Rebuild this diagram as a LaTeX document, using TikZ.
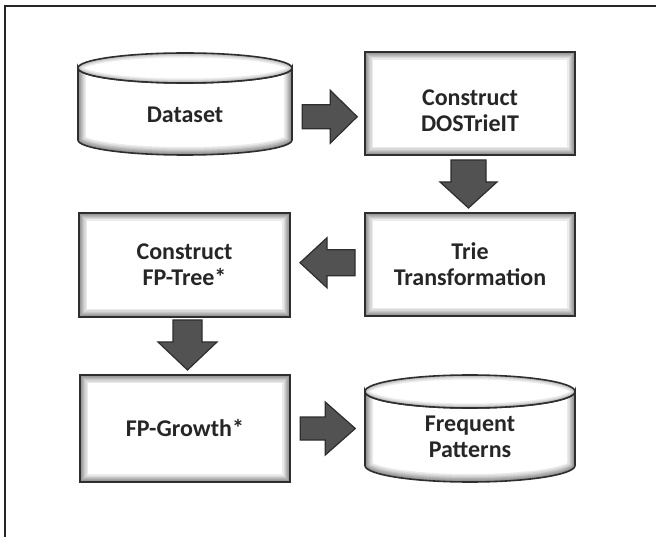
\documentclass[tikz,border=0pt]{standalone}
\usepackage{fontspec}
\setmainfont{Carlito}
\usetikzlibrary{calc}

% soft inner shadow strokes (clipped to the shape they outline)
\newcommand\glowwidths{2,4,6,8,10,13,16}
\newcommand\capglow{2,4,6,9}

% cylinder painted inside a node: #1 half width, #2 half height, #3 half height of the end ellipses
\newcommand\cylpaint[3]{%
  \coordinate (cyl-c) at (path picture bounding box.center);
  \coordinate (cyl-t) at ([yshift=#2pt-#3pt]cyl-c);
  \coordinate (cyl-b) at ([yshift=-#2pt+#3pt]cyl-c);
  \def\cylbody{([xshift=-#1pt]cyl-t) arc[start angle=180,end angle=360,x radius=#1pt,y radius=#3pt]
    -- ([xshift=#1pt]cyl-b) arc[start angle=0,end angle=-180,x radius=#1pt,y radius=#3pt] -- cycle}%
  \def\cylrim{([xshift=-#1pt,yshift=20pt]cyl-t) -- ([xshift=-#1pt]cyl-b)
    arc[start angle=180,end angle=360,x radius=#1pt,y radius=#3pt] -- ([xshift=#1pt,yshift=20pt]cyl-t)}%
  \def\cyltop{(cyl-t) ellipse[x radius=#1pt,y radius=#3pt]}%
  \fill[white] \cylbody;
  \begin{scope}
    \clip \cylbody;
    \foreach \w in \glowwidths {\draw[line width=\w pt, black, opacity=.08] \cylrim;}
  \end{scope}
  \draw[line width=1.6pt, black!82] \cylbody;
  \fill[white] \cyltop;
  \begin{scope}
    \clip \cyltop;
    \foreach \w in \capglow {\draw[line width=\w pt, black, opacity=.08] \cyltop;}
  \end{scope}
  \draw[line width=1.6pt, black!82] \cyltop;
}

% block arrow: #1 centre, #2 direction, #3 half length, #4 head base (from centre),
% #5 half head width, #6 half shaft width
\newcommand\flowarrow[6]{%
  \draw[blockarrow, shift={#1}, rotate=#2]
    (-#3,-#6) -- (#4,-#6) -- (#4,-#5) -- (#3,0) -- (#4,#5) -- (#4,#6) -- (-#3,#6) -- cycle;}

\tikzset{
  labelfont/.style={font=\bfseries\fontsize{24}{26}\selectfont, text=black!85, align=center, inner sep=0pt},
  stepbox/.style={rectangle, labelfont, draw=black!82, line width=1.6pt, fill=white,
    path picture={\foreach \w in \glowwidths {\draw[line width=\w pt, black, opacity=.08]
      (path picture bounding box.south west) rectangle (path picture bounding box.north east);}}},
  storebox/.style n args={3}{rectangle, labelfont, draw=none,
    minimum width={2*#1pt+6pt}, minimum height={2*#2pt+6pt},
    path picture={\cylpaint{#1}{#2}{#3}}},
  blockarrow/.style={fill=black!68, draw=black!82, line width=1.2pt, line join=miter},
  frameline/.style={line width=2pt, black!85}
}

\begin{document}
\begin{tikzpicture}[x=1pt, y=-1pt]
  \useasboundingbox (0,0) rectangle (656,537);

  % open frame: top and left edges
  \draw[frameline] (656,6) -- (5,6) -- (5,537);

  % stores and processing steps
  \node[storebox={107}{51}{15}] (data) at (185,104) {\rule{0pt}{37pt}Dataset};
  \node[stepbox, minimum width=210pt, minimum height=103pt] (dos) at (470,103.5)
    {\rule{0pt}{30pt}Construct\\DOSTrieIT};
  \node[stepbox, minimum width=210pt, minimum height=103pt] (trie) at (470,264.5)
    {Trie\\Transformation};
  \node[stepbox, minimum width=211pt, minimum height=104pt] (fptree) at (184.5,265)
    {Construct\\FP-Tree*};
  \node[stepbox, minimum width=210pt, minimum height=107pt] (growth) at (185,428.5)
    {FP-Growth*};
  \node[storebox={105}{53.5}{16.5}] (freq) at (470,428.5)
    {\rule{0pt}{32pt}Frequent\\Patterns};

  % flow between the steps
  \flowarrow{($(data.east)!0.5!(dos.west)+(0,13)$)}{0}{27.5}{0.5}{26.5}{12}
  \flowarrow{($(dos.south)!0.5!(trie.north)+(-1.5,0)$)}{-90}{24}{-2}{28.5}{17.5}
  \flowarrow{($(trie.west)!0.5!(fptree.east)+(0,-2)$)}{180}{27.5}{0.5}{25}{13}
  \flowarrow{($(fptree.south)!0.5!(growth.north)+(2.75,-1)$)}{-90}{25}{-3}{29.5}{14.5}
  \flowarrow{($(growth.east)!0.5!(freq.west)+(1.5,0)$)}{0}{27.5}{-2.5}{26.5}{11.5}
\end{tikzpicture}
\end{document}
